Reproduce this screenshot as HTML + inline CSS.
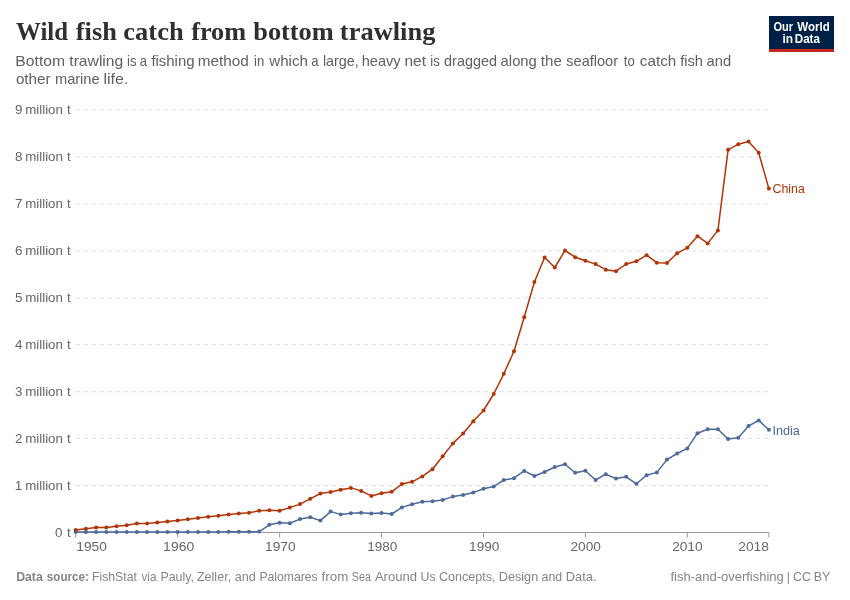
<!DOCTYPE html>
<html lang="en"><head><meta charset="utf-8"><title>Wild fish catch from bottom trawling</title>
<style>
html,body{margin:0;padding:0;background:#fff;}
body{width:850px;height:600px;overflow:hidden;}
svg{display:block;}
text{font-family:"Liberation Sans",sans-serif;white-space:pre;}
.title{font-family:"Liberation Serif",serif;font-weight:bold;font-size:26px;fill:#2f2f2f;}
.sub{font-size:14.6px;fill:#606060;}
.ax{font-size:13px;fill:#666;}
.ft{font-size:13px;fill:#858585;}
.ftb{font-size:13px;fill:#858585;font-weight:bold;}
.lg{font-size:12.4px;font-weight:bold;fill:#fff;}
.labc{font-size:13.4px;fill:#B13507;}
.labi{font-size:13.4px;fill:#4C6A9C;}
</style></head><body>
<svg width="850" height="600" viewBox="0 0 850 600">
<rect width="850" height="600" fill="#fff"/>
<rect x="769" y="16" width="65" height="35.8" fill="#002147"/>
<rect x="769" y="49" width="65" height="2.8" fill="#ce261e"/>
<line x1="75.8" x2="768.9" y1="485.6" y2="485.6" stroke="#ddd" stroke-width="1" stroke-dasharray="4,4"/>
<line x1="75.8" x2="768.9" y1="438.6" y2="438.6" stroke="#ddd" stroke-width="1" stroke-dasharray="4,4"/>
<line x1="75.8" x2="768.9" y1="391.7" y2="391.7" stroke="#ddd" stroke-width="1" stroke-dasharray="4,4"/>
<line x1="75.8" x2="768.9" y1="344.7" y2="344.7" stroke="#ddd" stroke-width="1" stroke-dasharray="4,4"/>
<line x1="75.8" x2="768.9" y1="297.8" y2="297.8" stroke="#ddd" stroke-width="1" stroke-dasharray="4,4"/>
<line x1="75.8" x2="768.9" y1="250.8" y2="250.8" stroke="#ddd" stroke-width="1" stroke-dasharray="4,4"/>
<line x1="75.8" x2="768.9" y1="203.9" y2="203.9" stroke="#ddd" stroke-width="1" stroke-dasharray="4,4"/>
<line x1="75.8" x2="768.9" y1="156.9" y2="156.9" stroke="#ddd" stroke-width="1" stroke-dasharray="4,4"/>
<line x1="75.8" x2="768.9" y1="110.0" y2="110.0" stroke="#ddd" stroke-width="1" stroke-dasharray="4,4"/>

<line x1="75.7" x2="768.9" y1="532.5" y2="532.5" stroke="#999" stroke-width="1"/>
<line x1="75.7" x2="75.7" y1="532.5" y2="537.5" stroke="#999" stroke-width="1"/>
<line x1="177.6" x2="177.6" y1="532.5" y2="537.5" stroke="#999" stroke-width="1"/>
<line x1="279.6" x2="279.6" y1="532.5" y2="537.5" stroke="#999" stroke-width="1"/>
<line x1="381.5" x2="381.5" y1="532.5" y2="537.5" stroke="#999" stroke-width="1"/>
<line x1="483.5" x2="483.5" y1="532.5" y2="537.5" stroke="#999" stroke-width="1"/>
<line x1="585.4" x2="585.4" y1="532.5" y2="537.5" stroke="#999" stroke-width="1"/>
<line x1="687.3" x2="687.3" y1="532.5" y2="537.5" stroke="#999" stroke-width="1"/>
<line x1="768.9" x2="768.9" y1="532.5" y2="537.5" stroke="#999" stroke-width="1"/>

<path d="M75.7,532.0 L85.9,532.0 L96.1,532.0 L106.3,532.0 L116.5,532.1 L126.7,532.0 L136.9,532.0 L147.1,532.0 L157.3,532.0 L167.4,532.0 L177.6,532.0 L187.8,532.0 L198.0,532.0 L208.2,532.0 L218.4,531.9 L228.6,531.7 L238.8,531.7 L249.0,531.7 L259.2,531.6 L269.4,524.8 L279.6,522.7 L289.8,523.3 L300.0,519.1 L310.2,517.2 L320.4,520.6 L330.6,511.6 L340.7,514.4 L350.9,513.3 L361.1,512.7 L371.3,513.6 L381.5,512.9 L391.7,514.0 L401.9,507.4 L412.1,504.2 L422.3,501.8 L432.5,501.2 L442.7,500.0 L452.9,496.6 L463.1,495.0 L473.3,492.6 L483.5,488.8 L493.7,486.6 L503.8,480.0 L514.0,478.2 L524.2,470.9 L534.4,476.0 L544.6,472.0 L554.8,467.0 L565.0,464.2 L575.2,472.8 L585.4,470.8 L595.6,480.0 L605.8,474.2 L616.0,478.6 L626.2,476.8 L636.4,483.8 L646.6,475.2 L656.8,472.4 L667.0,459.6 L677.1,453.5 L687.3,448.4 L697.5,433.2 L707.7,429.2 L717.9,429.2 L728.1,439.0 L738.3,437.8 L748.5,426.0 L758.7,420.4 L768.9,429.8" fill="none" stroke="#4C6A9C" stroke-width="1.5" stroke-linejoin="round" stroke-linecap="round"/>
<g fill="#4C6A9C"><circle cx="75.7" cy="532.0" r="2"/><circle cx="85.9" cy="532.0" r="2"/><circle cx="96.1" cy="532.0" r="2"/><circle cx="106.3" cy="532.0" r="2"/><circle cx="116.5" cy="532.1" r="2"/><circle cx="126.7" cy="532.0" r="2"/><circle cx="136.9" cy="532.0" r="2"/><circle cx="147.1" cy="532.0" r="2"/><circle cx="157.3" cy="532.0" r="2"/><circle cx="167.4" cy="532.0" r="2"/><circle cx="177.6" cy="532.0" r="2"/><circle cx="187.8" cy="532.0" r="2"/><circle cx="198.0" cy="532.0" r="2"/><circle cx="208.2" cy="532.0" r="2"/><circle cx="218.4" cy="531.9" r="2"/><circle cx="228.6" cy="531.7" r="2"/><circle cx="238.8" cy="531.7" r="2"/><circle cx="249.0" cy="531.7" r="2"/><circle cx="259.2" cy="531.6" r="2"/><circle cx="269.4" cy="524.8" r="2"/><circle cx="279.6" cy="522.7" r="2"/><circle cx="289.8" cy="523.3" r="2"/><circle cx="300.0" cy="519.1" r="2"/><circle cx="310.2" cy="517.2" r="2"/><circle cx="320.4" cy="520.6" r="2"/><circle cx="330.6" cy="511.6" r="2"/><circle cx="340.7" cy="514.4" r="2"/><circle cx="350.9" cy="513.3" r="2"/><circle cx="361.1" cy="512.7" r="2"/><circle cx="371.3" cy="513.6" r="2"/><circle cx="381.5" cy="512.9" r="2"/><circle cx="391.7" cy="514.0" r="2"/><circle cx="401.9" cy="507.4" r="2"/><circle cx="412.1" cy="504.2" r="2"/><circle cx="422.3" cy="501.8" r="2"/><circle cx="432.5" cy="501.2" r="2"/><circle cx="442.7" cy="500.0" r="2"/><circle cx="452.9" cy="496.6" r="2"/><circle cx="463.1" cy="495.0" r="2"/><circle cx="473.3" cy="492.6" r="2"/><circle cx="483.5" cy="488.8" r="2"/><circle cx="493.7" cy="486.6" r="2"/><circle cx="503.8" cy="480.0" r="2"/><circle cx="514.0" cy="478.2" r="2"/><circle cx="524.2" cy="470.9" r="2"/><circle cx="534.4" cy="476.0" r="2"/><circle cx="544.6" cy="472.0" r="2"/><circle cx="554.8" cy="467.0" r="2"/><circle cx="565.0" cy="464.2" r="2"/><circle cx="575.2" cy="472.8" r="2"/><circle cx="585.4" cy="470.8" r="2"/><circle cx="595.6" cy="480.0" r="2"/><circle cx="605.8" cy="474.2" r="2"/><circle cx="616.0" cy="478.6" r="2"/><circle cx="626.2" cy="476.8" r="2"/><circle cx="636.4" cy="483.8" r="2"/><circle cx="646.6" cy="475.2" r="2"/><circle cx="656.8" cy="472.4" r="2"/><circle cx="667.0" cy="459.6" r="2"/><circle cx="677.1" cy="453.5" r="2"/><circle cx="687.3" cy="448.4" r="2"/><circle cx="697.5" cy="433.2" r="2"/><circle cx="707.7" cy="429.2" r="2"/><circle cx="717.9" cy="429.2" r="2"/><circle cx="728.1" cy="439.0" r="2"/><circle cx="738.3" cy="437.8" r="2"/><circle cx="748.5" cy="426.0" r="2"/><circle cx="758.7" cy="420.4" r="2"/><circle cx="768.9" cy="429.8" r="2"/></g>

<path d="M75.7,529.9 L85.9,528.7 L96.1,527.6 L106.3,527.4 L116.5,526.3 L126.7,525.3 L136.9,523.6 L147.1,523.5 L157.3,522.5 L167.4,521.4 L177.6,520.4 L187.8,519.3 L198.0,518.0 L208.2,516.7 L218.4,515.7 L228.6,514.4 L238.8,513.5 L249.0,512.7 L259.2,510.8 L269.4,510.3 L279.6,510.8 L289.8,507.6 L300.0,504.1 L310.2,498.8 L320.4,493.5 L330.6,492.0 L340.7,489.8 L350.9,487.9 L361.1,490.9 L371.3,495.9 L381.5,493.2 L391.7,491.8 L401.9,484.0 L412.1,481.8 L422.3,476.4 L432.5,469.2 L442.7,456.2 L452.9,443.4 L463.1,433.5 L473.3,421.2 L483.5,410.5 L493.7,394.0 L503.8,373.8 L514.0,351.2 L524.2,317.2 L534.4,282.0 L544.6,257.5 L554.8,267.5 L565.0,250.5 L575.2,257.2 L585.4,260.8 L595.6,264.1 L605.8,269.7 L616.0,271.2 L626.2,264.0 L636.4,261.3 L646.6,255.2 L656.8,262.7 L667.0,263.0 L677.1,253.3 L687.3,247.7 L697.5,236.2 L707.7,243.4 L717.9,230.4 L728.1,149.8 L738.3,144.2 L748.5,141.6 L758.7,152.8 L768.9,188.6" fill="none" stroke="#B13507" stroke-width="1.5" stroke-linejoin="round" stroke-linecap="round"/>
<g fill="#B13507"><circle cx="75.7" cy="529.9" r="2"/><circle cx="85.9" cy="528.7" r="2"/><circle cx="96.1" cy="527.6" r="2"/><circle cx="106.3" cy="527.4" r="2"/><circle cx="116.5" cy="526.3" r="2"/><circle cx="126.7" cy="525.3" r="2"/><circle cx="136.9" cy="523.6" r="2"/><circle cx="147.1" cy="523.5" r="2"/><circle cx="157.3" cy="522.5" r="2"/><circle cx="167.4" cy="521.4" r="2"/><circle cx="177.6" cy="520.4" r="2"/><circle cx="187.8" cy="519.3" r="2"/><circle cx="198.0" cy="518.0" r="2"/><circle cx="208.2" cy="516.7" r="2"/><circle cx="218.4" cy="515.7" r="2"/><circle cx="228.6" cy="514.4" r="2"/><circle cx="238.8" cy="513.5" r="2"/><circle cx="249.0" cy="512.7" r="2"/><circle cx="259.2" cy="510.8" r="2"/><circle cx="269.4" cy="510.3" r="2"/><circle cx="279.6" cy="510.8" r="2"/><circle cx="289.8" cy="507.6" r="2"/><circle cx="300.0" cy="504.1" r="2"/><circle cx="310.2" cy="498.8" r="2"/><circle cx="320.4" cy="493.5" r="2"/><circle cx="330.6" cy="492.0" r="2"/><circle cx="340.7" cy="489.8" r="2"/><circle cx="350.9" cy="487.9" r="2"/><circle cx="361.1" cy="490.9" r="2"/><circle cx="371.3" cy="495.9" r="2"/><circle cx="381.5" cy="493.2" r="2"/><circle cx="391.7" cy="491.8" r="2"/><circle cx="401.9" cy="484.0" r="2"/><circle cx="412.1" cy="481.8" r="2"/><circle cx="422.3" cy="476.4" r="2"/><circle cx="432.5" cy="469.2" r="2"/><circle cx="442.7" cy="456.2" r="2"/><circle cx="452.9" cy="443.4" r="2"/><circle cx="463.1" cy="433.5" r="2"/><circle cx="473.3" cy="421.2" r="2"/><circle cx="483.5" cy="410.5" r="2"/><circle cx="493.7" cy="394.0" r="2"/><circle cx="503.8" cy="373.8" r="2"/><circle cx="514.0" cy="351.2" r="2"/><circle cx="524.2" cy="317.2" r="2"/><circle cx="534.4" cy="282.0" r="2"/><circle cx="544.6" cy="257.5" r="2"/><circle cx="554.8" cy="267.5" r="2"/><circle cx="565.0" cy="250.5" r="2"/><circle cx="575.2" cy="257.2" r="2"/><circle cx="585.4" cy="260.8" r="2"/><circle cx="595.6" cy="264.1" r="2"/><circle cx="605.8" cy="269.7" r="2"/><circle cx="616.0" cy="271.2" r="2"/><circle cx="626.2" cy="264.0" r="2"/><circle cx="636.4" cy="261.3" r="2"/><circle cx="646.6" cy="255.2" r="2"/><circle cx="656.8" cy="262.7" r="2"/><circle cx="667.0" cy="263.0" r="2"/><circle cx="677.1" cy="253.3" r="2"/><circle cx="687.3" cy="247.7" r="2"/><circle cx="697.5" cy="236.2" r="2"/><circle cx="707.7" cy="243.4" r="2"/><circle cx="717.9" cy="230.4" r="2"/><circle cx="728.1" cy="149.8" r="2"/><circle cx="738.3" cy="144.2" r="2"/><circle cx="748.5" cy="141.6" r="2"/><circle cx="758.7" cy="152.8" r="2"/><circle cx="768.9" cy="188.6" r="2"/></g>

<text class="title" y="39.7"><tspan x="16.10" textLength="51.93" lengthAdjust="spacingAndGlyphs">Wild</tspan> <tspan x="75.80" textLength="41.04" lengthAdjust="spacingAndGlyphs">fish</tspan> <tspan x="123.37" textLength="60.27" lengthAdjust="spacingAndGlyphs">catch</tspan> <tspan x="191.20" textLength="54.93" lengthAdjust="spacingAndGlyphs">from</tspan> <tspan x="253.30" textLength="80.33" lengthAdjust="spacingAndGlyphs">bottom</tspan> <tspan x="339.89" textLength="95.51" lengthAdjust="spacingAndGlyphs">trawling</tspan></text>
<text class="sub" y="66.2"><tspan x="15.37" textLength="49.74" lengthAdjust="spacingAndGlyphs">Bottom</tspan> <tspan x="69.30" textLength="53.98" lengthAdjust="spacingAndGlyphs">trawling</tspan> <tspan x="127.05" textLength="9.49" lengthAdjust="spacingAndGlyphs">is</tspan> <tspan x="139.65" textLength="7.31" lengthAdjust="spacingAndGlyphs">a</tspan> <tspan x="151.40" textLength="43.14" lengthAdjust="spacingAndGlyphs">fishing</tspan> <tspan x="197.84" textLength="51.01" lengthAdjust="spacingAndGlyphs">method</tspan> <tspan x="253.99" textLength="10.23" lengthAdjust="spacingAndGlyphs">in</tspan> <tspan x="269.34" textLength="38.51" lengthAdjust="spacingAndGlyphs">which</tspan> <tspan x="311.20" textLength="7.31" lengthAdjust="spacingAndGlyphs">a</tspan> <tspan x="322.90" textLength="35.97" lengthAdjust="spacingAndGlyphs">large,</tspan> <tspan x="361.69" textLength="38.91" lengthAdjust="spacingAndGlyphs">heavy</tspan> <tspan x="404.53" textLength="21.51" lengthAdjust="spacingAndGlyphs">net</tspan> <tspan x="430.30" textLength="9.49" lengthAdjust="spacingAndGlyphs">is</tspan> <tspan x="444.05" textLength="52.96" lengthAdjust="spacingAndGlyphs">dragged</tspan> <tspan x="500.64" textLength="36.19" lengthAdjust="spacingAndGlyphs">along</tspan> <tspan x="540.80" textLength="21.01" lengthAdjust="spacingAndGlyphs">the</tspan> <tspan x="566.27" textLength="51.80" lengthAdjust="spacingAndGlyphs">seafloor</tspan> <tspan x="623.84" textLength="10.96" lengthAdjust="spacingAndGlyphs">to</tspan> <tspan x="639.82" textLength="36.43" lengthAdjust="spacingAndGlyphs">catch</tspan> <tspan x="680.20" textLength="22.72" lengthAdjust="spacingAndGlyphs">fish</tspan> <tspan x="706.64" textLength="24.59" lengthAdjust="spacingAndGlyphs">and</tspan></text>
<text class="sub" y="84.0"><tspan x="15.92" textLength="34.65" lengthAdjust="spacingAndGlyphs">other</tspan> <tspan x="54.99" textLength="44.60" lengthAdjust="spacingAndGlyphs">marine</tspan> <tspan x="103.50" textLength="24.95" lengthAdjust="spacingAndGlyphs">life.</tspan></text>
<text class="ftb" y="580.6"><tspan x="16.13" textLength="26.69" lengthAdjust="spacingAndGlyphs">Data</tspan> <tspan x="46.84" textLength="42.13" lengthAdjust="spacingAndGlyphs">source:</tspan></text>
<text class="ft" y="580.6"><tspan x="91.94" textLength="45.02" lengthAdjust="spacingAndGlyphs">FishStat</tspan> <tspan x="141.50" textLength="14.93" lengthAdjust="spacingAndGlyphs">via</tspan> <tspan x="160.43" textLength="33.49" lengthAdjust="spacingAndGlyphs">Pauly,</tspan> <tspan x="196.91" textLength="34.23" lengthAdjust="spacingAndGlyphs">Zeller,</tspan> <tspan x="234.80" textLength="21.11" lengthAdjust="spacingAndGlyphs">and</tspan> <tspan x="259.45" textLength="58.23" lengthAdjust="spacingAndGlyphs">Palomares</tspan> <tspan x="321.60" textLength="26.69" lengthAdjust="spacingAndGlyphs">from</tspan> <tspan x="351.87" textLength="19.07" lengthAdjust="spacingAndGlyphs">Sea</tspan> <tspan x="374.90" textLength="42.03" lengthAdjust="spacingAndGlyphs">Around</tspan> <tspan x="420.61" textLength="15.09" lengthAdjust="spacingAndGlyphs">Us</tspan> <tspan x="438.91" textLength="56.63" lengthAdjust="spacingAndGlyphs">Concepts,</tspan> <tspan x="498.81" textLength="39.40" lengthAdjust="spacingAndGlyphs">Design</tspan> <tspan x="541.51" textLength="20.68" lengthAdjust="spacingAndGlyphs">and</tspan> <tspan x="565.79" textLength="30.77" lengthAdjust="spacingAndGlyphs">Data.</tspan></text>
<text class="ft" y="580.6"><tspan x="670.40" textLength="113.43" lengthAdjust="spacingAndGlyphs">fish-and-overfishing</tspan> <tspan x="786.76" textLength="3.21" lengthAdjust="spacingAndGlyphs">|</tspan> <tspan x="793.11" textLength="17.84" lengthAdjust="spacingAndGlyphs">CC</tspan> <tspan x="813.65" textLength="16.47" lengthAdjust="spacingAndGlyphs">BY</tspan></text>
<text class="lg" y="30.5"><tspan x="773.56" textLength="19.60" lengthAdjust="spacingAndGlyphs">Our</tspan> <tspan x="797.20" textLength="32.52" lengthAdjust="spacingAndGlyphs">World</tspan></text>
<text class="lg" y="42.7"><tspan x="782.55" textLength="10.58" lengthAdjust="spacingAndGlyphs">in</tspan> <tspan x="794.75" textLength="25.15" lengthAdjust="spacingAndGlyphs">Data</tspan></text>
<text class="ax" y="550.5"><tspan x="76.24" textLength="30.71" lengthAdjust="spacingAndGlyphs">1950</tspan> <tspan x="163.13" textLength="31.02" lengthAdjust="spacingAndGlyphs">1960</tspan> <tspan x="265.14" textLength="30.50" lengthAdjust="spacingAndGlyphs">1970</tspan> <tspan x="367.15" textLength="30.19" lengthAdjust="spacingAndGlyphs">1980</tspan> <tspan x="469.05" textLength="30.39" lengthAdjust="spacingAndGlyphs">1990</tspan> <tspan x="570.46" textLength="30.38" lengthAdjust="spacingAndGlyphs">2000</tspan> <tspan x="672.16" textLength="30.38" lengthAdjust="spacingAndGlyphs">2010</tspan> <tspan x="738.25" textLength="30.71" lengthAdjust="spacingAndGlyphs">2018</tspan></text>
<text class="labc" y="193.2"><tspan x="772.42" textLength="32.50" lengthAdjust="spacingAndGlyphs">China</tspan></text>
<text class="labi" y="434.6"><tspan x="772.41" textLength="27.51" lengthAdjust="spacingAndGlyphs">India</tspan></text>
<text class="ax" y="536.5"><tspan x="55.13" textLength="7.45" lengthAdjust="spacingAndGlyphs">0</tspan> <tspan x="66.97" textLength="3.72" lengthAdjust="spacingAndGlyphs">t</tspan></text>
<text class="ax" y="489.6"><tspan x="14.83" textLength="7.45" lengthAdjust="spacingAndGlyphs">1</tspan> <tspan x="25.17" textLength="37.78" lengthAdjust="spacingAndGlyphs">million</tspan> <tspan x="66.97" textLength="3.72" lengthAdjust="spacingAndGlyphs">t</tspan></text>
<text class="ax" y="442.6"><tspan x="14.93" textLength="7.45" lengthAdjust="spacingAndGlyphs">2</tspan> <tspan x="25.17" textLength="37.78" lengthAdjust="spacingAndGlyphs">million</tspan> <tspan x="66.97" textLength="3.72" lengthAdjust="spacingAndGlyphs">t</tspan></text>
<text class="ax" y="395.7"><tspan x="15.04" textLength="7.45" lengthAdjust="spacingAndGlyphs">3</tspan> <tspan x="25.17" textLength="37.78" lengthAdjust="spacingAndGlyphs">million</tspan> <tspan x="66.97" textLength="3.72" lengthAdjust="spacingAndGlyphs">t</tspan></text>
<text class="ax" y="348.7"><tspan x="15.04" textLength="7.45" lengthAdjust="spacingAndGlyphs">4</tspan> <tspan x="25.17" textLength="37.78" lengthAdjust="spacingAndGlyphs">million</tspan> <tspan x="66.97" textLength="3.72" lengthAdjust="spacingAndGlyphs">t</tspan></text>
<text class="ax" y="301.8"><tspan x="15.04" textLength="7.45" lengthAdjust="spacingAndGlyphs">5</tspan> <tspan x="25.17" textLength="37.78" lengthAdjust="spacingAndGlyphs">million</tspan> <tspan x="66.97" textLength="3.72" lengthAdjust="spacingAndGlyphs">t</tspan></text>
<text class="ax" y="254.8"><tspan x="14.93" textLength="7.45" lengthAdjust="spacingAndGlyphs">6</tspan> <tspan x="25.17" textLength="37.78" lengthAdjust="spacingAndGlyphs">million</tspan> <tspan x="66.97" textLength="3.72" lengthAdjust="spacingAndGlyphs">t</tspan></text>
<text class="ax" y="207.9"><tspan x="14.93" textLength="7.45" lengthAdjust="spacingAndGlyphs">7</tspan> <tspan x="25.17" textLength="37.78" lengthAdjust="spacingAndGlyphs">million</tspan> <tspan x="66.97" textLength="3.72" lengthAdjust="spacingAndGlyphs">t</tspan></text>
<text class="ax" y="160.9"><tspan x="15.04" textLength="7.45" lengthAdjust="spacingAndGlyphs">8</tspan> <tspan x="25.17" textLength="37.78" lengthAdjust="spacingAndGlyphs">million</tspan> <tspan x="66.97" textLength="3.72" lengthAdjust="spacingAndGlyphs">t</tspan></text>
<text class="ax" y="114.0"><tspan x="14.93" textLength="7.45" lengthAdjust="spacingAndGlyphs">9</tspan> <tspan x="25.17" textLength="37.78" lengthAdjust="spacingAndGlyphs">million</tspan> <tspan x="66.97" textLength="3.72" lengthAdjust="spacingAndGlyphs">t</tspan></text>

</svg>
</body></html>
